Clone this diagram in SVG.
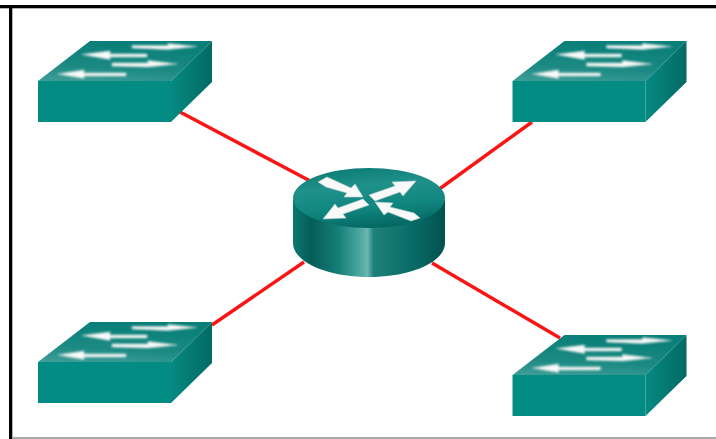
<svg xmlns="http://www.w3.org/2000/svg" width="716" height="439" viewBox="0 0 716 439">
<style>
.link{stroke:#fb1414;stroke-width:3.4;fill:none}
.arrow{fill:#f7faf9;stroke:#c4d2d0;stroke-width:.6}
</style>
<defs>
<linearGradient id="top" x1="0" y1="1" x2="0.25" y2="0"><stop offset="0" stop-color="#3f9e98"/><stop offset=".4" stop-color="#1c8a83"/><stop offset="1" stop-color="#087f78"/></linearGradient>
<linearGradient id="side" x1="0" y1="0" x2="1" y2="0"><stop offset="0" stop-color="#068a82"/><stop offset="1" stop-color="#036a64"/></linearGradient>
<linearGradient id="cyl" x1="0" y1="0" x2="1" y2="0">
<stop offset="0" stop-color="#0a7771"/><stop offset=".12" stop-color="#045d58"/><stop offset=".3" stop-color="#167f78"/><stop offset=".44" stop-color="#4ea7a1"/><stop offset=".49" stop-color="#6ab7b1"/><stop offset=".53" stop-color="#1f8179"/><stop offset=".8" stop-color="#086a65"/><stop offset="1" stop-color="#03524e"/></linearGradient>
<linearGradient id="dome" x1="0.35" y1="0" x2="0.6" y2="1"><stop offset="0" stop-color="#0d7c76"/><stop offset=".3" stop-color="#1f918a"/><stop offset=".65" stop-color="#108680"/><stop offset="1" stop-color="#04655f"/></linearGradient>
<filter id="b" x="-10%" y="-20%" width="120%" height="140%"><feGaussianBlur stdDeviation=".9"/></filter>
<filter id="c" x="-10%" y="-10%" width="120%" height="120%"><feGaussianBlur stdDeviation=".5"/></filter>
<g id="sw">
<polygon points="0,40 52,0 174,0 133,40" fill="url(#top)"/>
<polygon points="0,40 133,40 133,81 0,81" fill="#038c84"/>
<polygon points="133,40 174,0 174,41 133,81" fill="url(#side)"/>
<g class="arrow" filter="url(#b)">
<polygon points="94,4.500 130,4.500 130,2.500 159,5.500 130,8.500 94,7"/>
<polygon points="44,13.500 72,10 72,13 109,13 109,16 72,16 72,18.500"/>
<polygon points="74,22 110,22 110,19.500 139,23 110,26 74,25"/>
<polygon points="20,33 46,29 46,32 88,32 88,35 46,35 46,37.500"/>
</g>
</g>
</defs>
<rect width="716" height="439" fill="#fff"/>
<g id="frame">
<rect x="0" y="5" width="716" height="3.300" fill="#000"/>
<rect x="9" y="5" width="3.300" height="434" fill="#000"/>
<rect x="12" y="437" width="704" height="2" fill="#a8a8a8"/>
</g>
<g id="connectors">
<line class="link" x1="180" y1="112" x2="314" y2="183"/>
<line class="link" x1="532" y1="122" x2="438" y2="190"/>
<line class="link" x1="212" y1="325" x2="304" y2="262"/>
<line class="link" x1="560" y1="338" x2="432" y2="263"/>
</g>
<g id="switch-top-left"><use href="#sw" x="38" y="41"/></g>
<g id="switch-top-right"><use href="#sw" x="512.500" y="41"/></g>
<g id="switch-bottom-left"><use href="#sw" x="38" y="322"/></g>
<g id="switch-bottom-right"><use href="#sw" x="512.500" y="335"/></g>
<g id="router">
<path d="M293,200 V243 C293,262 327,277 369,277 C411,277 445,262 445,243 V200 Z" fill="url(#cyl)"/>
<ellipse cx="369" cy="198" rx="76" ry="30" fill="url(#dome)"/>
<g class="arrow" filter="url(#c)">
<polygon points="318,182 327,177 351,188 355,184 363,197 344,197 347,193 326,187"/>
<polygon points="416,181 392,182 395,186 369,195 375,201 400,192 403,196"/>
<polygon points="323,219 346,218 343,214 369,205 363,199 338,208 335,204"/>
<polygon points="420,218 411,221 388,212 384,215 375,202 393,203 390,207 414,213"/>
</g>
</g>
</svg>
